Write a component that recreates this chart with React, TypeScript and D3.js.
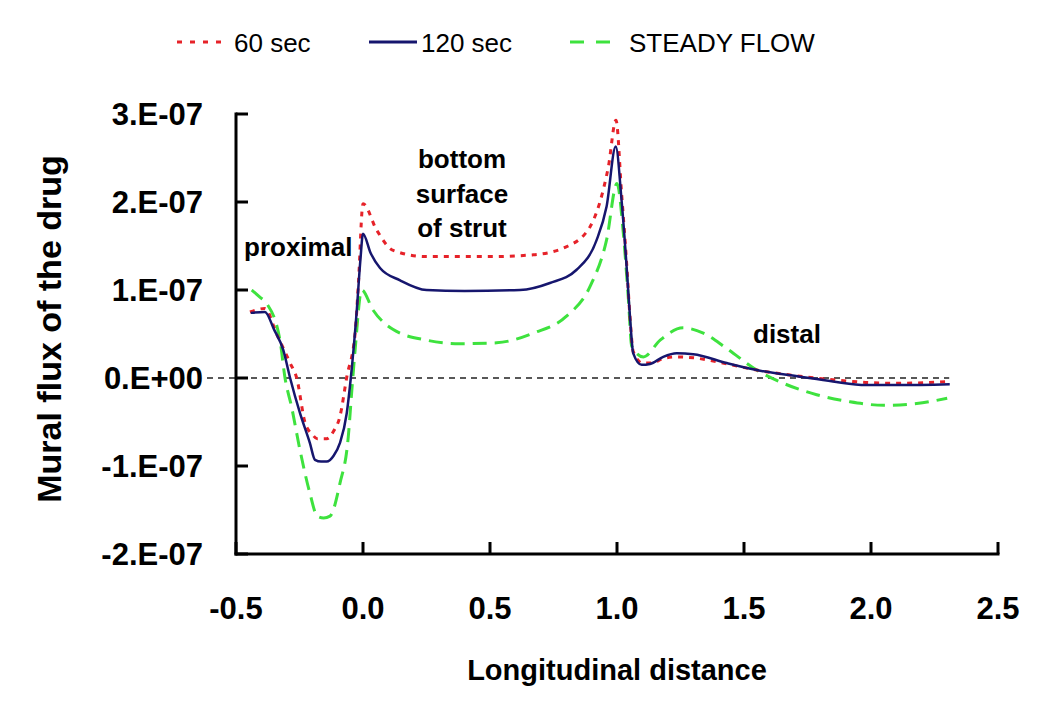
import React, { useEffect, useRef } from "react";
import * as d3 from "d3";

// Longitudinal distance (x) and mural flux (in units of 1e-7)
const sec60X = [-0.445, -0.386, -0.34, -0.287, -0.261, -0.228, -0.2, -0.18, -0.143, -0.115, -0.091, -0.064, -0.031, -0.018, 0.0, 0.054, 0.119, 0.25, 0.5, 0.67, 0.8, 0.894, 0.946, 0.966, 0.996, 1.018, 1.038, 1.051, 1.064, 1.1, 1.14, 1.18, 1.235, 1.3, 1.432, 1.55, 1.72, 1.85, 1.98, 2.11, 2.3];
const sec60Y = [0.75, 0.79, 0.5, 0.17, 0.0, -0.51, -0.64, -0.69, -0.69, -0.6, -0.44, 0.01, 0.51, 1.08, 1.98, 1.68, 1.45, 1.38, 1.38, 1.4, 1.49, 1.72, 2.14, 2.4, 2.93, 2.1, 1.3, 0.7, 0.3, 0.17, 0.17, 0.22, 0.24, 0.23, 0.16, 0.09, 0.02, -0.02, -0.05, -0.06, -0.04];

const sec120X = [-0.442, -0.386, -0.35, -0.314, -0.287, -0.248, -0.209, -0.189, -0.165, -0.143, -0.115, -0.091, -0.064, -0.048, -0.025, -0.01, 0.0, 0.03, 0.067, 0.146, 0.25, 0.4, 0.618, 0.736, 0.841, 0.92, 0.959, 0.995, 1.018, 1.038, 1.051, 1.064, 1.097, 1.13, 1.182, 1.235, 1.3, 1.432, 1.55, 1.72, 1.85, 1.98, 2.11, 2.31];
const sec120Y = [0.74, 0.75, 0.55, 0.32, 0.0, -0.4, -0.74, -0.93, -0.95, -0.95, -0.88, -0.74, -0.4, 0.0, 0.75, 1.35, 1.64, 1.42, 1.25, 1.11, 1.0, 0.99, 1.0, 1.08, 1.23, 1.57, 1.95, 2.63, 2.02, 1.26, 0.7, 0.28, 0.15, 0.16, 0.24, 0.28, 0.27, 0.17, 0.09, 0.015, -0.04, -0.08, -0.08, -0.07];

const steadyX = [-0.438, -0.406, -0.38, -0.327, -0.307, -0.281, -0.248, -0.209, -0.18, -0.155, -0.13, -0.091, -0.058, -0.044, -0.031, -0.005, 0.04, 0.119, 0.25, 0.38, 0.526, 0.67, 0.8, 0.894, 0.959, 1.0, 1.025, 1.045, 1.058, 1.104, 1.17, 1.26, 1.34, 1.43, 1.55, 1.655, 1.786, 1.917, 2.05, 2.18, 2.3];
const steadyY = [1.0, 0.92, 0.85, 0.43, 0.0, -0.33, -0.82, -1.31, -1.57, -1.59, -1.57, -1.2, -0.67, -0.14, 0.32, 1.0, 0.77, 0.55, 0.43, 0.39, 0.4, 0.51, 0.7, 1.04, 1.57, 2.21, 1.64, 0.89, 0.36, 0.24, 0.43, 0.57, 0.51, 0.34, 0.09, -0.06, -0.19, -0.27, -0.31, -0.29, -0.23];

const xTicks = [-0.5, 0.0, 0.5, 1.0, 1.5, 2.0, 2.5];
const yTicks = [3, 2, 1, 0, -1, -2];
const yTickLabels = ["3.E-07", "2.E-07", "1.E-07", "0.E+00", "-1.E-07", "-2.E-07"];

const seriesNames = ["60 sec", "120 sec", "STEADY FLOW"];
const seriesColors = ["#e62229", "#16166e", "#3ee23e"];
const seriesDash = ["5,6", null, "14,8"];

const FONT = "'Liberation Sans', Arial, sans-serif";

export default function App() {
  const ref = useRef<SVGSVGElement | null>(null);

  useEffect(() => {
    const svg = d3.select(ref.current);
    svg.selectAll("*").remove();

    const x = d3.scaleLinear().domain([-0.5, 2.5]).range([236, 998]);
    const y = d3.scaleLinear().domain([-2, 3]).range([554, 114]);

    // zero dashed line
    svg.append("line")
      .attr("x1", 207).attr("x2", x(2.3) + 2)
      .attr("y1", y(0)).attr("y2", y(0))
      .attr("stroke", "#222").attr("stroke-width", 1.5)
      .attr("stroke-dasharray", "6,5");

    const seriesData = [
      d3.zip(sec60X, sec60Y),
      d3.zip(sec120X, sec120Y),
      d3.zip(steadyX, steadyY),
    ];

    const line = d3.line<number[]>()
      .x((d) => x(d[0]))
      .y((d) => y(d[1]))
      .curve(d3.curveMonotoneX);

    // draw steady, then 60, then 120 on top
    [2, 0, 1].forEach((i) => {
      const p = svg.append("path")
        .attr("d", line(seriesData[i] as number[][]) as string)
        .attr("fill", "none")
        .attr("stroke", seriesColors[i])
        .attr("stroke-width", i === 1 ? 2.5 : 3);
      if (seriesDash[i]) p.attr("stroke-dasharray", seriesDash[i] as string);
    });

    // axes
    const ax = svg.append("g").attr("stroke", "#000").attr("stroke-width", 3);
    ax.append("line").attr("x1", x(-0.5)).attr("x2", x(-0.5)).attr("y1", y(3) - 1.5).attr("y2", y(-2) + 1.5);
    ax.append("line").attr("x1", x(-0.5) - 1.5).attr("x2", x(2.5) + 1.5).attr("y1", y(-2)).attr("y2", y(-2));
    yTicks.forEach((t) => {
      ax.append("line").attr("x1", x(-0.5)).attr("x2", x(-0.5) + 12).attr("y1", y(t)).attr("y2", y(t));
    });
    xTicks.forEach((t) => {
      ax.append("line").attr("x1", x(t)).attr("x2", x(t)).attr("y1", y(-2)).attr("y2", y(-2) - 12);
    });

    // tick labels
    yTicks.forEach((t, i) => {
      svg.append("text")
        .attr("x", 203).attr("y", y(t) + 11)
        .attr("text-anchor", "end")
        .attr("font-family", FONT).attr("font-weight", "bold").attr("font-size", 31)
        .text(yTickLabels[i]);
    });
    xTicks.forEach((t) => {
      svg.append("text")
        .attr("x", x(t)).attr("y", 619)
        .attr("text-anchor", "middle")
        .attr("font-family", FONT).attr("font-weight", "bold").attr("font-size", 31)
        .text(t.toFixed(1));
    });

    // axis titles
    svg.append("text")
      .attr("x", 617).attr("y", 680)
      .attr("text-anchor", "middle")
      .attr("font-family", FONT).attr("font-weight", "bold").attr("font-size", 29)
      .text("Longitudinal distance");
    svg.append("text")
      .attr("transform", "translate(61,329) rotate(-90)")
      .attr("text-anchor", "middle")
      .attr("font-family", FONT).attr("font-weight", "bold").attr("font-size", 34)
      .text("Mural flux of the drug");

    // annotations
    const ann = (tx: number, ty: number, s: string, anchor = "start") =>
      svg.append("text").attr("x", tx).attr("y", ty).attr("text-anchor", anchor)
        .attr("font-family", FONT).attr("font-weight", "bold").attr("font-size", 26).text(s);
    ann(244, 256, "proximal");
    ann(462, 168, "bottom", "middle");
    ann(462, 203, "surface", "middle");
    ann(462, 237, "of strut", "middle");
    ann(753, 343, "distal");

    // legend
    const legend = [
      { x1: 177, x2: 222, tx: 234 },
      { x1: 369, x2: 417, tx: 421 },
      { x1: 570, x2: 612, tx: 629 },
    ];
    legend.forEach((l, i) => {
      const ln = svg.append("line")
        .attr("x1", l.x1).attr("x2", l.x2).attr("y1", 42).attr("y2", 42)
        .attr("stroke", seriesColors[i]).attr("stroke-width", 3);
      if (seriesDash[i]) ln.attr("stroke-dasharray", i === 0 ? "5,8" : "14,12");
      svg.append("text")
        .attr("x", l.tx).attr("y", 52)
        .attr("font-family", FONT).attr("font-size", 26)
        .text(seriesNames[i]);
    });
  }, []);

  return (
    <svg
      ref={ref}
      width={1050}
      height={712}
      style={{ position: "absolute", left: 0, top: 0, background: "#fff" }}
    />
  );
}
